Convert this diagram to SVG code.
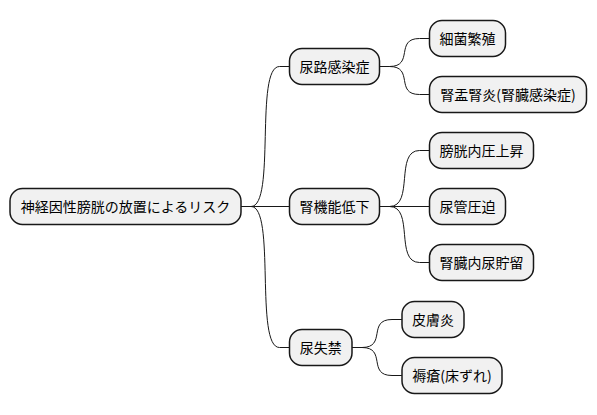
<svg xmlns="http://www.w3.org/2000/svg" width="597" height="415" viewBox="0 0 597 415">
<style>
.n rect{fill:#F1F1F1;stroke:#181818;stroke-width:1.5}
.n text{font-family:"Noto Sans CJK JP","Noto Sans CJK SC",sans-serif;font-size:14px;fill:#000;text-anchor:middle}
#connectors path{fill:none;stroke:#181818;stroke-width:1}
</style>
<rect width="597" height="415" fill="#FFFFFF"/>
<g id="connectors">
<path d="M241,206.5 H251 C276,206.5 254.5,66.5 279.5,66.5 H289.5"/>
<path d="M241,206.5 H289.5"/>
<path d="M241,206.5 H251 C276,206.5 254.5,347.5 279.5,347.5 H289.5"/>
<path d="M379.5,66.5 H389.5 C414.5,66.5 394.5,38.5 419.5,38.5 H429.5"/>
<path d="M379.5,66.5 H389.5 C414.5,66.5 394.5,94.5 419.5,94.5 H429.5"/>
<path d="M379.5,206.5 H389.5 C414.5,206.5 394.5,150.5 419.5,150.5 H429.5"/>
<path d="M379.5,206.5 H429.5"/>
<path d="M379.5,206.5 H389.5 C414.5,206.5 394.5,262.5 419.5,262.5 H429.5"/>
<path d="M352,347.5 H362 C387,347.5 367,319.5 392,319.5 H402"/>
<path d="M352,347.5 H362 C387,347.5 367,375.5 392,375.5 H402"/>
</g>
<g id="root" class="n"><rect x="10" y="188.5" width="231" height="36" rx="12.5"/><text x="125.5" y="211.5">神経因性膀胱の放置によるリスク</text></g>
<g id="n1" class="n"><rect x="289.5" y="48.5" width="90" height="36" rx="12.5"/><text x="334.5" y="71.5">尿路感染症</text></g>
<g id="n1a" class="n"><rect x="429.5" y="20.5" width="76" height="36" rx="12.5"/><text x="467.5" y="43.5">細菌繁殖</text></g>
<g id="n1b" class="n"><rect x="429.5" y="76.5" width="157" height="36" rx="12.5"/><text x="508" y="99.5">腎盂腎炎(腎臓感染症)</text></g>
<g id="n2" class="n"><rect x="289.5" y="188.5" width="90" height="36" rx="12.5"/><text x="334.5" y="211.5">腎機能低下</text></g>
<g id="n2a" class="n"><rect x="429.5" y="132.5" width="104" height="36" rx="12.5"/><text x="481.5" y="155.5">膀胱内圧上昇</text></g>
<g id="n2b" class="n"><rect x="429.5" y="188.5" width="76" height="36" rx="12.5"/><text x="467.5" y="211.5">尿管圧迫</text></g>
<g id="n2c" class="n"><rect x="429.5" y="244.5" width="104" height="36" rx="12.5"/><text x="481.5" y="267.5">腎臓内尿貯留</text></g>
<g id="n3" class="n"><rect x="289.5" y="329.5" width="62.5" height="36" rx="12.5"/><text x="320.75" y="352.5">尿失禁</text></g>
<g id="n3a" class="n"><rect x="402" y="301.5" width="62" height="36" rx="12.5"/><text x="433" y="324.5">皮膚炎</text></g>
<g id="n3b" class="n"><rect x="402" y="357.5" width="100" height="36" rx="12.5"/><text x="452" y="380.5">褥瘡(床ずれ)</text></g>
</svg>
